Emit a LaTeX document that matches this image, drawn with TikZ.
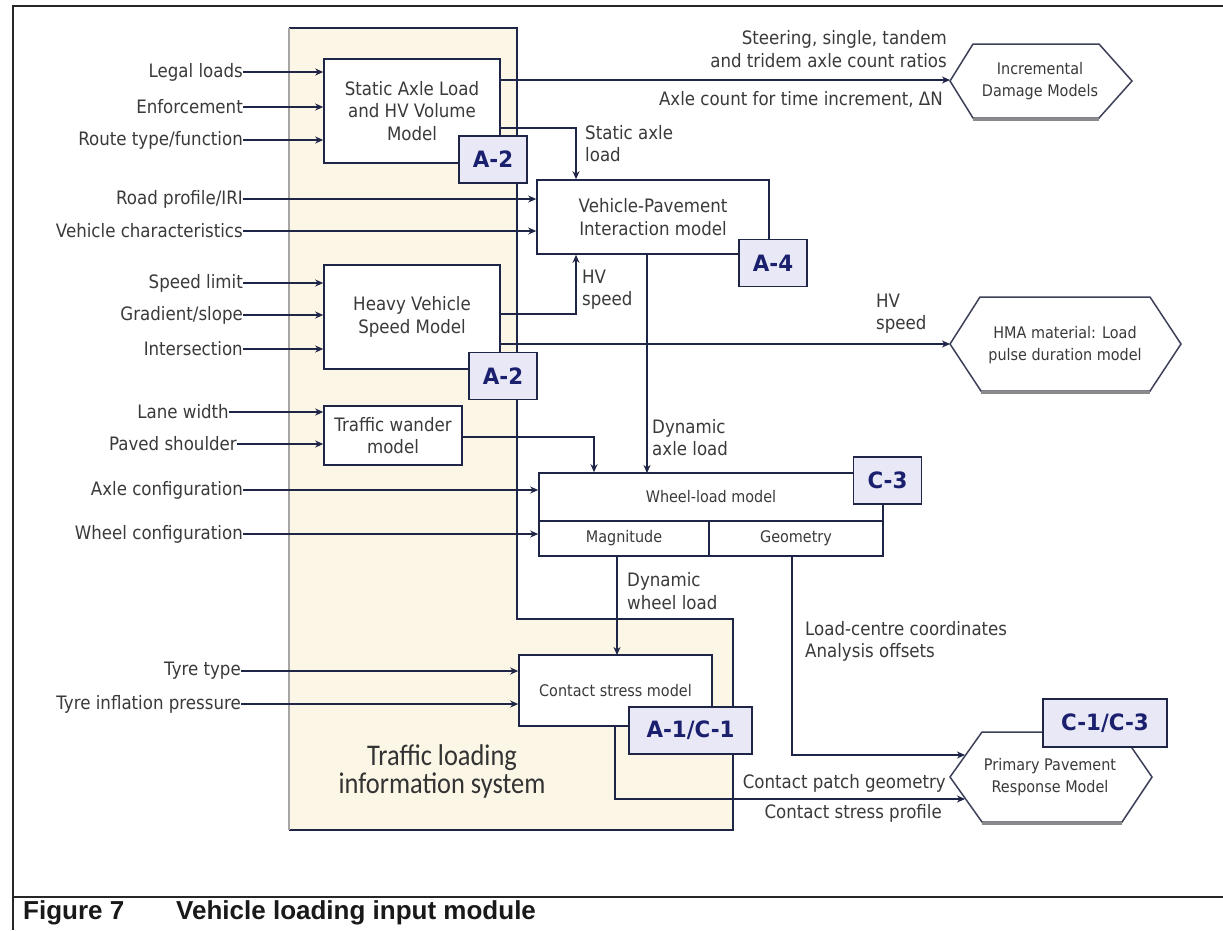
\documentclass[tikz,border=0pt]{standalone}
\usepackage{fontspec}
\setmainfont{DejaVu Sans}
\newfontfamily\labfont[FakeStretch=0.9]{DejaVu Sans}
\newfontfamily\tagfont[FakeStretch=0.95]{DejaVu Sans}
\newfontfamily\bigfont[FakeStretch=0.88]{Carlito}
\newfontfamily\capfont{Liberation Sans}
\usetikzlibrary{arrows.meta}
\definecolor{navy}{HTML}{1F2547}
\definecolor{txt}{HTML}{3A3A3A}
\definecolor{tagfill}{HTML}{E8E8F6}
\definecolor{tagtxt}{HTML}{1A1F6E}
\definecolor{beige}{HTML}{FCF6E6}
\definecolor{hexgray}{HTML}{8A8A8A}
\tikzset{
  box/.style={draw=navy, line width=1.6pt, fill=white, inner sep=0pt, align=center, text=txt,
    font=\labfont\fontsize{18.5}{22.5}\selectfont},
  sbox/.style={box, font=\labfont\fontsize{16}{22}\selectfont},
  tag/.style={draw=navy, line width=1.8pt, fill=tagfill, inner sep=0pt, text=tagtxt,
    font=\tagfont\bfseries\fontsize{22.5}{26}\selectfont, minimum width=68pt, minimum height=47pt},
  lab/.style={text=txt, inner sep=0pt, font=\labfont\fontsize{18.5}{22.5}\selectfont},
  slab/.style={text=txt, inner sep=0pt, align=center, font=\labfont\fontsize{16}{22}\selectfont},
  arr/.style={draw=navy, line width=1.3pt, -{Stealth[length=8pt,width=7pt,inset=2.5pt]}},
  ln/.style={draw=navy, line width=1.3pt},
  hexa/.style={draw=navy!70!gray, line width=1.5pt, fill=white},
  hexshadow/.style={draw=hexgray, line width=3pt},
}
\begin{document}
\begin{tikzpicture}[x=1pt,y=-1pt]
\useasboundingbox (0,0) rectangle (1223,930);
\fill[white] (0,0) rectangle (1223,930);
% outer frame
\draw[line width=2pt, black!85] (1223,6) -- (13,6) -- (13,930);
\draw[line width=2pt, black!85] (13,897) -- (1223,897);
% traffic loading information system area
\fill[beige] (289,28) -- (517,28) -- (517,619) -- (733,619) -- (733,830) -- (289,830) -- cycle;
\draw[navy, line width=1.5pt] (289,28) -- (517,28) -- (517,619) -- (733,619) -- (733,830) -- (289,830);
\draw[gray!70, line width=1.5pt] (289,28) -- (289,830);
\node[font=\bigfont\fontsize{30}{28}\selectfont, text=black!80, align=center] (tlis) at (442,771) {Traffic loading\\information system};

% model boxes
\node[box, minimum width=176pt, minimum height=104pt] (sa) at (412,111) {Static Axle Load\\and HV Volume\\Model};
\node[box, minimum width=176pt, minimum height=104pt] (hv) at (412,317) {Heavy Vehicle\\Speed Model};
\node[box, minimum width=138pt, minimum height=59pt] (tw) at (393,435.5) {Traffic wander\\model};
\node[box, minimum width=232pt, minimum height=74pt] (vpi) at (653,217) {Vehicle-Pavement\\Interaction model};
\node[sbox, minimum width=344pt, minimum height=48pt] (wl) at (711,497) {Wheel-load model};
\node[sbox, minimum width=170pt, minimum height=35pt] (mag) at (624,538.5) {Magnitude};
\node[sbox, minimum width=174pt, minimum height=35pt] (geo) at (796,538.5) {Geometry};
\node[sbox, minimum width=193pt, minimum height=71pt] (cs) at (615.5,690.5) {Contact stress model};

% hexagons
\draw[hexa] (950,81) -- (973,44) -- (1099,44) -- (1132,81) -- (1099,118) -- (973,118) -- cycle;
\draw[hexshadow] (973,119.5) -- (1099,119.5);
\node[slab] (inc) at (1040,81.5) {Incremental\\Damage Models};
\draw[hexa] (950,344) -- (980,297) -- (1150,297) -- (1181,344) -- (1150,391) -- (981,391) -- cycle;
\draw[hexshadow] (981,392.5) -- (1150,392.5);
\node[slab] (hma) at (1065,345) {HMA material: Load\\pulse duration model};
\draw[hexa] (950,777) -- (982,732) -- (1121,732) -- (1152,777) -- (1122,822) -- (982,822) -- cycle;
\draw[hexshadow] (982,823.5) -- (1122,823.5);
\node[slab] (ppr) at (1050,777.5) {Primary Pavement\\Response Model};
\coordinate (incL) at (950,80);
\coordinate (hmaL) at (950,344);
\coordinate (pU) at (965,755);
\coordinate (pL) at (965,799);

% input labels
\node[lab, anchor=east] (i1) at (243,72) {Legal loads};
\node[lab, anchor=east] (i2) at (243,107) {Enforcement};
\node[lab, anchor=east] (i3) at (243,140) {Route type/function};
\node[lab, anchor=east] (i4) at (243,199) {Road profile/IRI};
\node[lab, anchor=east] (i5) at (243,231) {Vehicle characteristics};
\node[lab, anchor=east] (i6) at (243,283) {Speed limit};
\node[lab, anchor=east] (i7) at (243,315) {Gradient/slope};
\node[lab, anchor=east] (i8) at (243,349) {Intersection};
\node[lab, anchor=east] (i9) at (229,412) {Lane width};
\node[lab, anchor=east] (i10) at (237,444) {Paved shoulder};
\node[lab, anchor=east] (i11) at (243,490) {Axle configuration};
\node[lab, anchor=east] (i12) at (243,534) {Wheel configuration};
\node[lab, anchor=east] (i13) at (241,671) {Tyre type};
\node[lab, anchor=east] (i14) at (241,704) {Tyre inflation pressure};

\foreach \i in {i1,i2,i3} \draw[arr] (\i.east) -- (\i.east -| sa.west);
\foreach \i in {i4,i5} \draw[arr] (\i.east) -- (\i.east -| vpi.west);
\foreach \i in {i6,i7,i8} \draw[arr] (\i.east) -- (\i.east -| hv.west);
\foreach \i in {i9,i10} \draw[arr] (\i.east) -- (\i.east -| tw.west);
\draw[arr] (i11.east) -- (i11.east -| wl.west);
\draw[arr] (i12.east) -- (i12.east -| mag.west);
\foreach \i in {i13,i14} \draw[arr] (\i.east) -- (\i.east -| cs.west);

% internal connectors
\coordinate (c1) at (576,128);
\coordinate (c2) at (576,314);
\coordinate (c3) at (647,473);
\coordinate (c4) at (594,437);
\coordinate (c5) at (792,755);
\coordinate (c6) at (615,799);
\coordinate (c7) at (617,655);
\draw[arr] (incL -| sa.east) -- (incL);
\draw[arr] (c1 -| sa.east) -- (c1) -- (c1 |- vpi.north);
\draw[arr] (c2 -| hv.east) -- (c2) -- (c2 |- vpi.south);
\draw[arr] (hmaL -| hv.east) -- (hmaL);
\draw[arr] (c3 |- vpi.south) -- (c3);
\draw[arr] (c4 -| tw.east) -- (c4) -- (c4 |- wl.north);
\draw[arr] (c7 |- mag.south) -- (c7);
\draw[arr] (c5 |- geo.south) -- (c5) -- (pU);
\draw[arr] (c6 |- cs.south) -- (c6) -- (pL);

% connector labels
\node[lab, anchor=east, align=right] (l1) at (947,49) {Steering, single, tandem\\and tridem axle count ratios};
\node[lab, anchor=east] (l2) at (943,100) {Axle count for time increment, ΔN};
\node[lab, anchor=west, align=left] (l3) at (585,143.5) {Static axle\\load};
\node[lab, anchor=west, align=left] (l4) at (582,289.5) {HV\\speed};
\node[lab, anchor=west, align=left] (l5) at (876,313.5) {HV\\speed};
\node[lab, anchor=west, align=left] (l6) at (652,437.5) {Dynamic\\axle load};
\node[lab, anchor=west, align=left] (l7) at (627,591) {Dynamic\\wheel load};
\node[lab, anchor=west, align=left] (l8) at (805,641.5) {Load-centre coordinates\\Analysis offsets};
\node[lab, anchor=east] (l9) at (946,783) {Contact patch geometry};
\node[lab, anchor=east] (l10) at (942,813) {Contact stress profile};

% tags
\node[tag] (t1) at (493,159.5) {A-2};
\node[tag] (t2) at (503,376) {A-2};
\node[tag] (t3) at (773,263) {A-4};
\node[tag] (t4) at (887.5,480.5) {C-3};
\node[tag, minimum width=123pt] (t5) at (690.5,730.5) {A-1/C-1};
\node[tag, minimum width=124pt, minimum height=48pt] (t6) at (1105,723) {C-1/C-3};

% caption
\node[font=\capfont\bfseries\fontsize{26}{30}\selectfont, text=black!90, anchor=west, inner sep=0pt] (cap1) at (23,913) {Figure 7};
\node[font=\capfont\bfseries\fontsize{26}{30}\selectfont, text=black!90, anchor=west, inner sep=0pt] (cap2) at (176,913) {Vehicle loading input module};
\end{tikzpicture}
\end{document}
